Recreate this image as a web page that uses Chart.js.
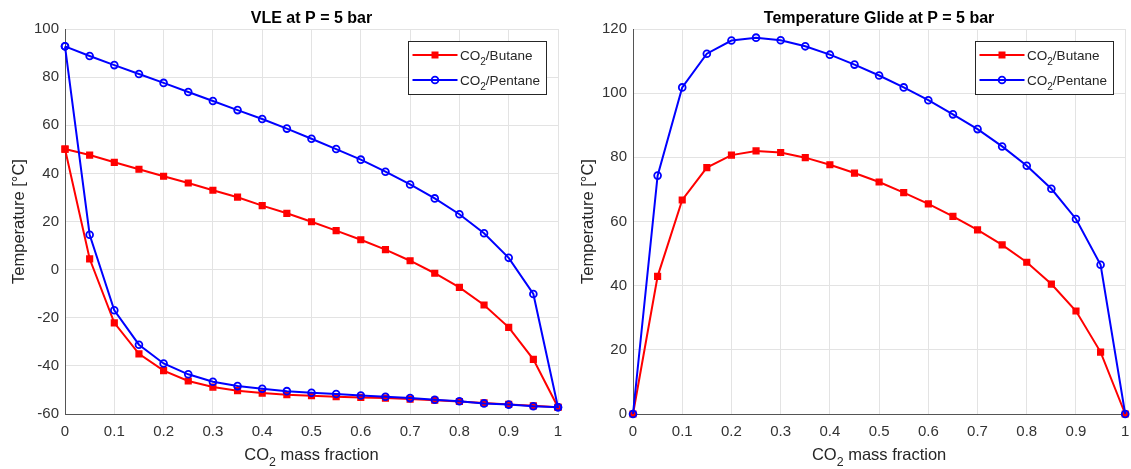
<!DOCTYPE html>
<html>
<head>
<meta charset="utf-8">
<title>CO2 mixtures at P = 5 bar</title>
<script src="https://cdn.jsdelivr.net/npm/chart.js@4.4.1/dist/chart.umd.min.js"></script>
<style>
  body { margin: 0; background: #fff; }
  canvas { position: absolute; top: 0; }
  #vleChart { left: 0; }
  #glideChart { left: 566px; }
</style>
</head>
<body>
<canvas id="vleChart" width="566" height="469"></canvas>
<canvas id="glideChart" width="565" height="469"></canvas>
<script>
// CO2 mass fraction steps
const massFraction = [0, 0.05, 0.1, 0.15, 0.2, 0.25, 0.3, 0.35, 0.4, 0.45, 0.5,
    0.55, 0.6, 0.65, 0.7, 0.75, 0.8, 0.85, 0.9, 0.95, 1];

// dew / bubble temperatures [°C]
const butaneDew = [50.1, 47.6, 44.6, 41.7, 38.8, 36.0, 33.0, 30.1, 26.6, 23.4, 19.9,
    16.2, 12.4, 8.3, 3.7, -1.5, -7.4, -14.7, -24.0, -37.3, -57.2];
const butaneBubble = [50.1, 4.5, -22.1, -35.0, -42.0, -46.3, -48.8, -50.3, -51.3, -52.0, -52.4,
    -52.8, -53.1, -53.4, -53.8, -54.3, -54.8, -55.4, -56.0, -56.6, -57.2];
const pentaneDew = [92.8, 88.8, 85.0, 81.3, 77.6, 73.8, 70.1, 66.3, 62.6, 58.6, 54.4,
    50.1, 45.7, 40.7, 35.4, 29.6, 23.0, 15.1, 4.9, -10.1, -57.2];
const pentaneBubble = [92.8, 14.5, -16.9, -31.2, -39.0, -43.5, -46.6, -48.4, -49.5, -50.5, -51.2,
    -51.7, -52.3, -52.8, -53.4, -54.1, -54.7, -55.6, -56.1, -56.8, -57.2];

// temperature glide [°C]
const butaneGlide = [0, 42.9, 66.7, 76.8, 80.7, 82.0, 81.5, 79.9, 77.7, 75.1, 72.3,
    69.0, 65.5, 61.6, 57.4, 52.7, 47.3, 40.5, 32.1, 19.3, 0];
const pentaneGlide = [0, 74.3, 101.8, 112.3, 116.4, 117.3, 116.5, 114.6, 112.0, 108.9, 105.5,
    101.8, 97.8, 93.4, 88.8, 83.4, 77.4, 70.2, 60.8, 46.5, 0];

// tick values
const xTicks = [0, 0.1, 0.2, 0.3, 0.4, 0.5, 0.6, 0.7, 0.8, 0.9, 1];
const vleTicks = [-60, -40, -20, 0, 20, 40, 60, 80, 100];
const glideTicks = [0, 20, 40, 60, 80, 100, 120];

const FONT = '"Liberation Sans", Arial, Helvetica, sans-serif';
const RED = '#ff0000';
const BLUE = '#0000ff';

// text pieces with a subscript "2" for CO2
const co2 = rest => [{ t: 'CO' }, { t: '2', sub: true }, { t: rest }];

function drawRich(ctx, parts, x, y, size, align) {
    const sizeOf = p => p.sub ? size * 0.75 : size;
    let total = 0;
    parts.forEach(p => {
        ctx.font = sizeOf(p) + 'px ' + FONT;
        total += ctx.measureText(p.t).width;
    });
    let cx = align === 'center' ? x - total / 2 : x;
    ctx.textAlign = 'left';
    ctx.textBaseline = 'alphabetic';
    parts.forEach(p => {
        ctx.font = sizeOf(p) + 'px ' + FONT;
        ctx.fillText(p.t, cx, p.sub ? y + size * 0.38 : y);
        cx += ctx.measureText(p.t).width;
    });
}

// loop: dew curve left to right, then bubble curve back
function loopPoints(dew, bubble) {
    const upper = massFraction.map((x, i) => ({ x: x, y: dew[i] }));
    const lower = massFraction.map((x, i) => ({ x: x, y: bubble[i] })).reverse();
    return upper.concat(lower);
}

function linePoints(values) {
    return massFraction.map((x, i) => ({ x: x, y: values[i] }));
}

function seriesStyle(color, pointStyle, order) {
    const isRect = pointStyle === 'rect';
    return {
        showLine: true,
        borderColor: color,
        borderWidth: 2,
        pointStyle: pointStyle,
        pointRadius: isRect ? 4 : 3.4,
        pointBorderWidth: isRect ? 1.5 : 1.8,
        pointBorderColor: color,
        pointBackgroundColor: isRect ? color : 'rgba(0,0,0,0)',
        pointHoverRadius: 4,
        clip: false,
        order: order
    };
}

const legendItems = [
    { parts: co2('/Butane'), color: RED, pointStyle: 'rect' },
    { parts: co2('/Pentane'), color: BLUE, pointStyle: 'circle' }
];

// title, axis titles and legend box
function panelText(title, yTitleX) {
    return {
        id: 'panelText',
        afterDraw(chart) {
            const ctx = chart.ctx;
            const area = chart.chartArea;
            const midX = (area.left + area.right) / 2;
            ctx.save();
            ctx.fillStyle = '#000';
            ctx.font = 'bold 16px ' + FONT;
            ctx.textAlign = 'center';
            ctx.textBaseline = 'alphabetic';
            ctx.fillText(title, midX, 23);

            ctx.fillStyle = '#262626';
            drawRich(ctx, co2(' mass fraction'), midX, 460, 16.5, 'center');

            ctx.save();
            ctx.translate(yTitleX, (area.top + area.bottom) / 2);
            ctx.rotate(-Math.PI / 2);
            ctx.font = '16.5px ' + FONT;
            ctx.textAlign = 'center';
            ctx.textBaseline = 'middle';
            ctx.fillText('Temperature [°C]', 0, 0);
            ctx.restore();

            // legend
            const boxW = 138, boxH = 53;
            const bx = Math.round(area.right - 12.5 - boxW) + 0.5;
            const by = Math.round(area.top + 12) + 0.5;
            ctx.fillStyle = '#fff';
            ctx.fillRect(bx, by, boxW, boxH);
            ctx.strokeStyle = '#262626';
            ctx.lineWidth = 1;
            ctx.strokeRect(bx, by, boxW, boxH);
            legendItems.forEach((item, i) => {
                const ly = by + 13.5 + i * 25;
                ctx.strokeStyle = item.color;
                ctx.lineWidth = 2;
                ctx.beginPath();
                ctx.moveTo(bx + 4, ly);
                ctx.lineTo(bx + 49, ly);
                ctx.stroke();
                const mx = bx + 26.5;
                if (item.pointStyle === 'rect') {
                    ctx.fillStyle = item.color;
                    ctx.fillRect(mx - 3.5, ly - 3.5, 7, 7);
                } else {
                    ctx.lineWidth = 1.8;
                    ctx.beginPath();
                    ctx.arc(mx, ly, 3.4, 0, Math.PI * 2);
                    ctx.stroke();
                }
                ctx.fillStyle = '#262626';
                drawRich(ctx, item.parts, bx + 51.5, ly + 4.5, 13.5, 'left');
            });
            ctx.restore();
        }
    };
}

function axisOptions(yMin, yMax, yTickValues, yWidth) {
    const tickFont = { family: FONT, size: 15 };
    return {
        x: {
            type: 'linear',
            min: 0,
            max: 1,
            afterBuildTicks: scale => { scale.ticks = xTicks.map(v => ({ value: v })); },
            afterFit: scale => {
                scale.height = 55;
                scale.paddingLeft = 0;
                scale.paddingRight = 0;
            },
            ticks: {
                color: '#333',
                font: tickFont,
                padding: 9,
                maxRotation: 0,
                callback: v => String(Math.round(v * 10) / 10)
            },
            grid: { color: '#e3e3e3', drawTicks: false },
            border: { color: '#555', width: 1 }
        },
        y: {
            type: 'linear',
            min: yMin,
            max: yMax,
            afterBuildTicks: scale => { scale.ticks = yTickValues.map(v => ({ value: v })); },
            afterFit: scale => {
                scale.width = yWidth;
                scale.paddingTop = 0;
                scale.paddingBottom = 0;
            },
            ticks: { color: '#333', font: tickFont, padding: 6 },
            grid: { color: '#e3e3e3', drawTicks: false },
            border: { color: '#555', width: 1 }
        }
    };
}

new Chart(document.getElementById('vleChart'), {
    type: 'scatter',
    data: {
        datasets: [
            Object.assign({ label: 'CO2/Butane', data: loopPoints(butaneDew, butaneBubble) },
                seriesStyle(RED, 'rect', 2)),
            Object.assign({ label: 'CO2/Pentane', data: loopPoints(pentaneDew, pentaneBubble) },
                seriesStyle(BLUE, 'circle', 1))
        ]
    },
    options: {
        responsive: false,
        animation: false,
        layout: { padding: { top: 29, right: 8, left: 0, bottom: 0 } },
        plugins: { legend: { display: false }, tooltip: { enabled: false } },
        scales: axisOptions(-60, 100, vleTicks, 65)
    },
    plugins: [panelText('VLE at P = 5 bar', 19)]
});

new Chart(document.getElementById('glideChart'), {
    type: 'scatter',
    data: {
        datasets: [
            Object.assign({ label: 'CO2/Butane', data: linePoints(butaneGlide) },
                seriesStyle(RED, 'rect', 2)),
            Object.assign({ label: 'CO2/Pentane', data: linePoints(pentaneGlide) },
                seriesStyle(BLUE, 'circle', 1))
        ]
    },
    options: {
        responsive: false,
        animation: false,
        layout: { padding: { top: 29, right: 5, left: 0, bottom: 0 } },
        plugins: { legend: { display: false }, tooltip: { enabled: false } },
        scales: axisOptions(0, 120, glideTicks, 67)
    },
    plugins: [panelText('Temperature Glide at P = 5 bar', 22.5)]
});
</script>
</body>
</html>
